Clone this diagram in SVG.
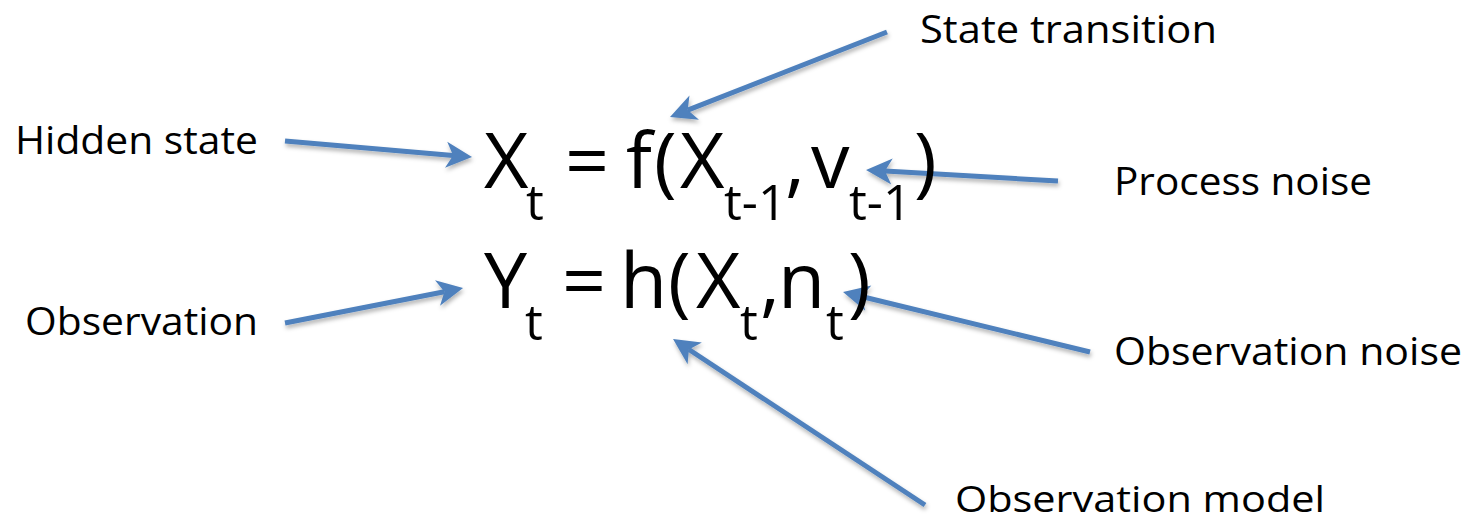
<svg xmlns="http://www.w3.org/2000/svg" width="1481" height="522" viewBox="0 0 1481 522">
  <style>
    .lbl { font-family: "Open Sans", "Noto Sans", "Liberation Sans", sans-serif; font-size: 39px; fill: #000; }
    .eq { font-family: "Open Sans", "Noto Sans", "Liberation Sans", sans-serif; font-size: 77px; fill: #000; }
    .sub { font-size: 50px; }
    .conn { stroke: #4F81BD; stroke-width: 5; fill: none; marker-end: url(#head); }
  </style>
  <defs>
    <marker id="head" markerUnits="userSpaceOnUse" markerWidth="40" markerHeight="40" viewBox="-10 -20 40 40" refX="0" refY="0" orient="auto">
      <path d="M-7,-13 L19,0 L-7,13 L0,0 Z" fill="#4F81BD"/>
    </marker>
    <filter id="shadow" x="-10%" y="-30%" width="120%" height="160%">
      <feDropShadow dx="1" dy="3" stdDeviation="2" flood-color="#000" flood-opacity="0.3"/>
    </filter>
  </defs>
  <rect width="1481" height="522" fill="#fff"/>

  <g id="connectors" filter="url(#shadow)">
    <line class="conn" x1="285" y1="141" x2="453.1" y2="155.4"/>
    <line class="conn" x1="887" y1="32" x2="687.7" y2="110.1"/>
    <line class="conn" x1="1058" y1="181" x2="885.0" y2="171.1"/>
    <line class="conn" x1="285" y1="323" x2="444.4" y2="291.7"/>
    <line class="conn" x1="1090" y1="352" x2="861.5" y2="296.5"/>
    <line class="conn" x1="925" y1="505" x2="688.9" y2="349.5"/>
  </g>

  <g id="eq-state">
    <text class="eq"><tspan x="484" y="188">X</tspan><tspan class="sub" x="526" y="220">t</tspan><tspan x="565" y="188">=</tspan><tspan x="626" y="188">f</tspan><tspan x="654" y="188">(</tspan><tspan x="680" y="188">X</tspan><tspan class="sub" x="724" y="220">t-1</tspan><tspan x="785" y="188">,</tspan><tspan x="811" y="188">v</tspan><tspan class="sub" x="849" y="220">t-1</tspan><tspan x="914" y="188">)</tspan></text>
  </g>
  <g id="eq-observation">
    <text class="eq"><tspan x="484" y="308">Y</tspan><tspan class="sub" x="525" y="340">t</tspan><tspan x="562" y="308">=</tspan><tspan x="620" y="308">h</tspan><tspan x="668" y="308">(</tspan><tspan x="696" y="308">X</tspan><tspan class="sub" x="740" y="340">t</tspan><tspan x="760" y="308">,</tspan><tspan x="778" y="308">n</tspan><tspan class="sub" x="826" y="340">t</tspan><tspan x="848" y="308">)</tspan></text>
  </g>

  <g id="label-hidden-state"><text class="lbl" x="15" y="154" textLength="243" lengthAdjust="spacingAndGlyphs">Hidden state</text></g>
  <g id="label-state-transition"><text class="lbl" x="920" y="43" textLength="297" lengthAdjust="spacingAndGlyphs">State transition</text></g>
  <g id="label-process-noise"><text class="lbl" x="1114" y="195" textLength="258" lengthAdjust="spacingAndGlyphs">Process noise</text></g>
  <g id="label-observation"><text class="lbl" x="25" y="335" textLength="233" lengthAdjust="spacingAndGlyphs">Observation</text></g>
  <g id="label-observation-noise"><text class="lbl" x="1114" y="365" textLength="348" lengthAdjust="spacingAndGlyphs">Observation noise</text></g>
  <g id="label-observation-model"><text class="lbl" x="955" y="512" textLength="370" lengthAdjust="spacingAndGlyphs" style="font-size:37px">Observation model</text></g>
</svg>
